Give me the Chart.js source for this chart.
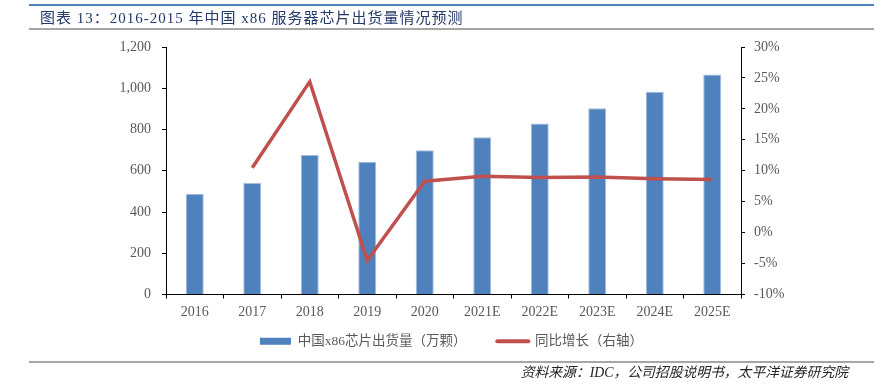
<!DOCTYPE html>
<html lang="zh-CN">
<head>
    <meta charset="UTF-8">
    <title>2016-2015 年中国 x86 服务器芯片出货量情况预测</title>
    <script src="https://cdn.jsdelivr.net/npm/chart.js"></script>
    <style>
        body {
            margin: 0;
            background: #fff;
        }

        .page {
            position: relative;
            width: 889px;
            height: 385px;
            overflow: hidden;
        }

        .rule {
            position: absolute;
            left: 29px;
            width: 845px;
        }

        .rule-top {
            top: 4px;
            height: 2px;
            background: #4F81BD;
        }

        .rule-mid {
            top: 28px;
            height: 2px;
            background: #A6A6A6;
        }

        .rule-bottom {
            top: 361px;
            height: 2px;
            background: #A6A6A6;
        }

        .title {
            position: absolute;
            left: 40px;
            top: 8px;
            font-size: 15px;
            line-height: 20px;
            letter-spacing: 1px;
            font-family: 'Liberation Serif', 'Noto Sans CJK SC', serif;
            color: #233A6A;
            white-space: nowrap;
        }

        .source {
            position: absolute;
            right: 41px;
            top: 364px;
            font-size: 13.8px;
            line-height: 18px;
            font-style: italic;
            font-family: 'Liberation Serif', 'Noto Sans CJK SC', serif;
            color: #222;
            white-space: nowrap;
        }

        #chart {
            position: absolute;
            left: 0;
            top: 0;
        }
    </style>
</head>
<body>
<div class="page">
    <canvas id="chart" width="889" height="385"></canvas>
    <div class="rule rule-top"></div>
    <div class="title">图表 13：2016-2015 年中国 x86 服务器芯片出货量情况预测</div>
    <div class="rule rule-mid"></div>
    <div class="rule rule-bottom"></div>
    <div class="source">资料来源：IDC，公司招股说明书，太平洋证券研究院</div>
</div>

<script>
    const years = ['2016', '2017', '2018', '2019', '2020', '2021E', '2022E', '2023E', '2024E', '2025E'];
    const shipments = [489, 541, 676, 644, 699, 762, 829, 903, 983, 1067];
    const growth = [null, 10.5, 24.4, -4.5, 8.3, 9.1, 8.9, 9.0, 8.7, 8.6];

    const barLabel = '中国x86芯片出货量（万颗）';
    const lineLabel = '同比增长（右轴）';

    const barColor = '#4F81BD';
    const lineColor = '#C0504D';
    const textColor = '#595959';
    const fontFamily = "'Liberation Serif', 'Noto Sans CJK SC', serif";

    const ctx = document.getElementById('chart').getContext('2d');

    new Chart(ctx, {
        type: 'bar',
        data: {
            labels: years,
            datasets: [{
                type: 'bar',
                label: barLabel,
                data: shipments,
                yAxisID: 'y',
                order: 1,
                backgroundColor: barColor,
                borderColor: '#A3BCDD',
                borderWidth: 1,
                barPercentage: 0.313,
                categoryPercentage: 1
            }, {
                type: 'line',
                label: lineLabel,
                data: growth,
                yAxisID: 'y1',
                order: 0,
                borderColor: lineColor,
                backgroundColor: lineColor,
                borderWidth: 3.5,
                pointRadius: 0,
                tension: 0,
                spanGaps: false
            }]
        },
        options: {
            responsive: false,
            animation: false,
            locale: 'en-US',
            layout: {
                padding: {left: 14, right: 0, top: 47, bottom: 27}
            },
            plugins: {
                tooltip: {enabled: false},
                legend: {
                    position: 'bottom',
                    labels: {
                        usePointStyle: true,
                        pointStyleWidth: 31,
                        boxHeight: 7,
                        padding: 14,
                        color: textColor,
                        font: {family: fontFamily, size: 13.5},
                        sort: (a, b) => a.datasetIndex - b.datasetIndex,
                        generateLabels(chart) {
                            const items = Chart.defaults.plugins.legend.labels.generateLabels(chart);
                            items.forEach(item => {
                                if (item.datasetIndex === 0) {
                                    // extra room before the second entry
                                    item.text = item.text + '\u3000   ';
                                    item.pointStyle = 'rect';
                                    item.fillStyle = barColor;
                                    item.lineWidth = 0;
                                } else {
                                    item.pointStyle = 'line';
                                    item.strokeStyle = lineColor;
                                    item.lineWidth = 4;
                                    item.lineCap = 'round';
                                }
                            });
                            return items;
                        }
                    }
                }
            },
            scales: {
                x: {
                    offset: true,
                    afterFit(scale) { scale.height = 26; },
                    grid: {
                        offset: true,
                        drawOnChartArea: false,
                        drawTicks: true,
                        tickLength: 4,
                        color: '#000'
                    },
                    border: {color: '#000', width: 1},
                    ticks: {
                        color: textColor,
                        font: {family: fontFamily, size: 14},
                        padding: 5,
                        maxRotation: 0,
                        autoSkip: false
                    }
                },
                y: {
                    position: 'left',
                    min: 0,
                    max: 1200,
                    afterFit(scale) { scale.width = 152; },
                    grid: {
                        drawOnChartArea: false,
                        tickLength: 4,
                        color: '#000'
                    },
                    border: {color: '#000', width: 1},
                    ticks: {
                        stepSize: 200,
                        color: textColor,
                        font: {family: fontFamily, size: 14},
                        padding: 11
                    }
                },
                y1: {
                    position: 'right',
                    min: -10,
                    max: 30,
                    afterFit(scale) { scale.width = 148; },
                    grid: {
                        drawOnChartArea: false,
                        tickLength: 4,
                        color: '#000'
                    },
                    border: {color: '#000', width: 1},
                    ticks: {
                        stepSize: 5,
                        color: textColor,
                        font: {family: fontFamily, size: 14},
                        padding: 9,
                        callback: v => v + '%'
                    }
                }
            }
        }
    });
</script>
</body>
</html>
